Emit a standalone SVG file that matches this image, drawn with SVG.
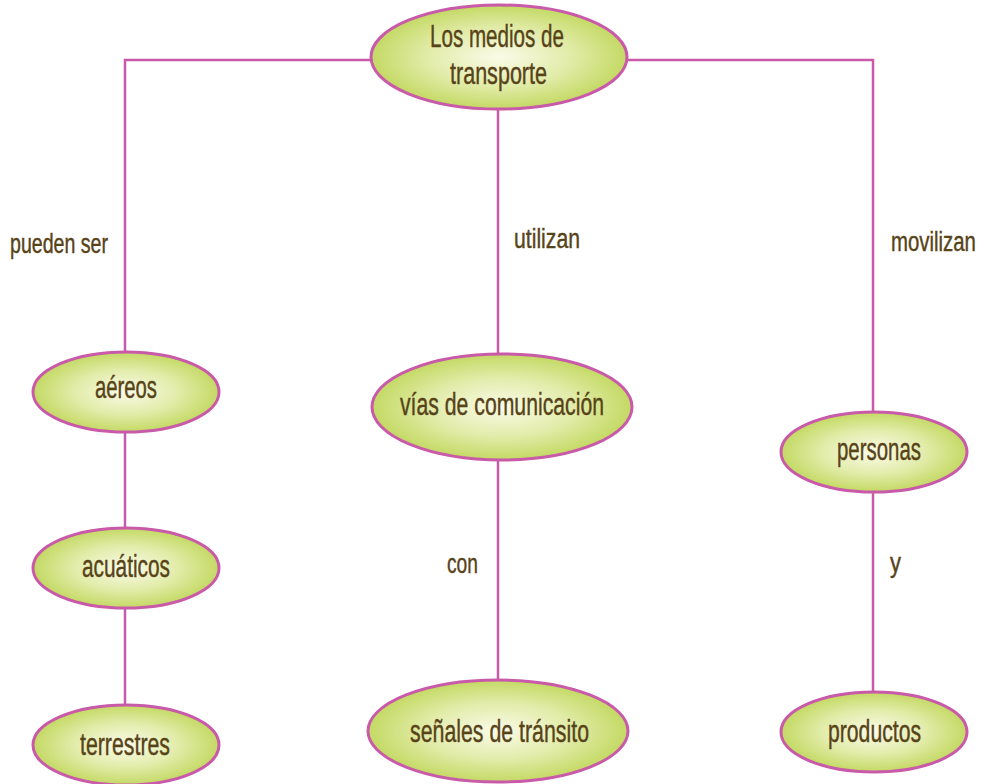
<svg xmlns="http://www.w3.org/2000/svg" width="984" height="784" viewBox="0 0 984 784">
<defs>
<radialGradient id="g" cx="50%" cy="50%" r="50%">
<stop offset="0" stop-color="#fafbe8"/>
<stop offset="0.55" stop-color="#e2ecaa"/>
<stop offset="1" stop-color="#c4d964"/>
</radialGradient>
<style>
.n{fill:url(#g);stroke:#c95aa9;stroke-width:3}
.c{fill:none;stroke:#c95aa9;stroke-width:2.5}
text{font-family:"Liberation Sans",Arial,sans-serif;fill:#574318;stroke:#574318;stroke-width:0.4}
.t{font-size:31px}
.l{font-size:27px}
</style>
</defs>
<rect width="984" height="784" fill="#ffffff"/>
<g id="connectors">
<polyline class="c" points="372,60 125,60 125,353"/>
<polyline class="c" points="626,60 873,60 873,413"/>
<line class="c" x1="498" y1="110" x2="498" y2="355"/>
<line class="c" x1="125" y1="432" x2="125" y2="529"/>
<line class="c" x1="125" y1="607" x2="125" y2="706"/>
<line class="c" x1="498" y1="459" x2="498" y2="681"/>
<line class="c" x1="873" y1="491" x2="873" y2="693"/>
</g>
<g id="labels">
<text class="l" x="10" y="253" textLength="98" lengthAdjust="spacingAndGlyphs">pueden ser</text>
<text class="l" x="514" y="248" textLength="66" lengthAdjust="spacingAndGlyphs">utilizan</text>
<text class="l" transform="translate(891,251) scale(0.755,1)" x="0" y="0">movilizan</text>
<text class="l" x="447" y="573" textLength="31" lengthAdjust="spacingAndGlyphs">con</text>
<text class="l" x="890" y="572" textLength="11" lengthAdjust="spacingAndGlyphs">y</text>
</g>
<g id="node-transporte">
<ellipse class="n" cx="499" cy="57" rx="128" ry="52"/>
<text class="t" x="430" y="47" textLength="134" lengthAdjust="spacingAndGlyphs">Los medios de</text>
<text class="t" x="450" y="84" textLength="97" lengthAdjust="spacingAndGlyphs">transporte</text>
</g>
<g id="node-aereos">
<ellipse class="n" cx="126" cy="392" rx="93" ry="40"/>
<text class="t" x="95" y="398" textLength="62" lengthAdjust="spacingAndGlyphs">aéreos</text>
</g>
<g id="node-acuaticos">
<ellipse class="n" cx="126" cy="568" rx="93" ry="40"/>
<text class="t" x="82" y="577" textLength="88" lengthAdjust="spacingAndGlyphs">acuáticos</text>
</g>
<g id="node-terrestres">
<ellipse class="n" cx="126" cy="745" rx="93" ry="40"/>
<text class="t" x="80" y="755" textLength="90" lengthAdjust="spacingAndGlyphs">terrestres</text>
</g>
<g id="node-vias">
<ellipse class="n" cx="502" cy="407" rx="130" ry="53"/>
<text class="t" x="400" y="415" textLength="204" lengthAdjust="spacingAndGlyphs">vías de comunicación</text>
</g>
<g id="node-senales">
<ellipse class="n" cx="498" cy="731" rx="130" ry="51"/>
<text class="t" x="410" y="742" textLength="179" lengthAdjust="spacingAndGlyphs">señales de tránsito</text>
</g>
<g id="node-personas">
<ellipse class="n" cx="874" cy="452" rx="93" ry="40"/>
<text class="t" x="837" y="460" textLength="84" lengthAdjust="spacingAndGlyphs">personas</text>
</g>
<g id="node-productos">
<ellipse class="n" cx="874" cy="732" rx="93" ry="40"/>
<text class="t" x="828" y="742" textLength="93" lengthAdjust="spacingAndGlyphs">productos</text>
</g>
</svg>
